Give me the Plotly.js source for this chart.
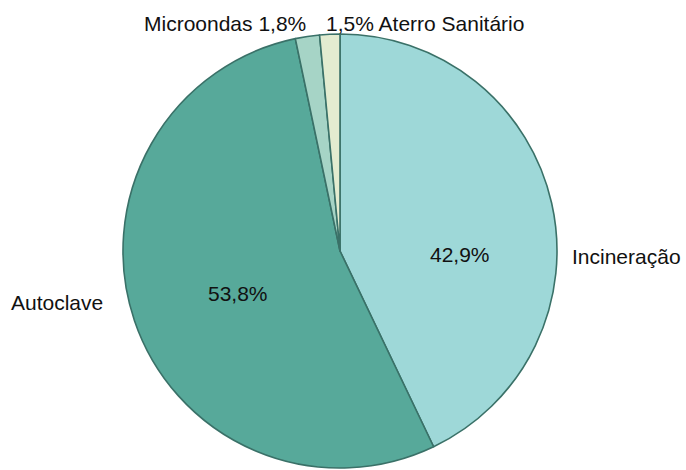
<!DOCTYPE html>
<html>
<head>
<meta charset="utf-8">
<script src="https://cdn.plot.ly/plotly-3.0.1.min.js"></script>
<style>
  html, body { margin: 0; padding: 0; background: #ffffff; }
  #chart { width: 686px; height: 470px; }
</style>
</head>
<body>
<div id="chart"></div>
<script>
// Data
const categories = ['Incineração', 'Autoclave', 'Microondas', 'Aterro Sanitário'];
const values = [42.9, 53.8, 1.8, 1.5];
const sliceColors = ['#9ed8d8', '#57a99a', '#a6d4c6', '#e3ecd0'];

function pct(v) { return v.toFixed(1).replace('.', ',') + '%'; }

const W = 686, H = 470;
const cx = 340, cy = 251, R = 217;

const trace = {
  type: 'pie',
  labels: categories,
  values: values,
  sort: false,
  direction: 'clockwise',
  rotation: 0,
  textinfo: 'none',
  hoverinfo: 'label+percent',
  marker: { colors: sliceColors, line: { color: '#3a7168', width: 1.6 } },
  domain: { x: [(cx - R) / W, (cx + R) / W], y: [(H - cy - R) / H, (H - cy + R) / H] }
};

const font = { family: 'Liberation Sans, Arial, Helvetica, sans-serif', size: 21, color: '#111111' };
function ann(text, px, py, xanchor) {
  return { text: text, x: px / W, y: 1 - py / H, xref: 'paper', yref: 'paper',
           xanchor: xanchor, yanchor: 'middle', showarrow: false, font: font };
}

const annotations = [
  ann(pct(values[0]), 460, 255, 'center'),
  ann(pct(values[1]), 238, 293, 'center'),
  ann(categories[0], 570, 256, 'left'),
  ann(categories[1], 9, 302, 'left'),
  ann(categories[2] + ' ' + pct(values[2]), 308, 24, 'right'),
  ann(pct(values[3]) + ' ' + categories[3], 324, 24, 'left')
];

const layout = {
  width: W, height: H,
  margin: { l: 0, r: 0, t: 0, b: 0 },
  paper_bgcolor: '#ffffff',
  showlegend: false,
  annotations: annotations,
  font: font
};

Plotly.newPlot('chart', [trace], layout, { staticPlot: true, displayModeBar: false });
</script>
</body>
</html>
